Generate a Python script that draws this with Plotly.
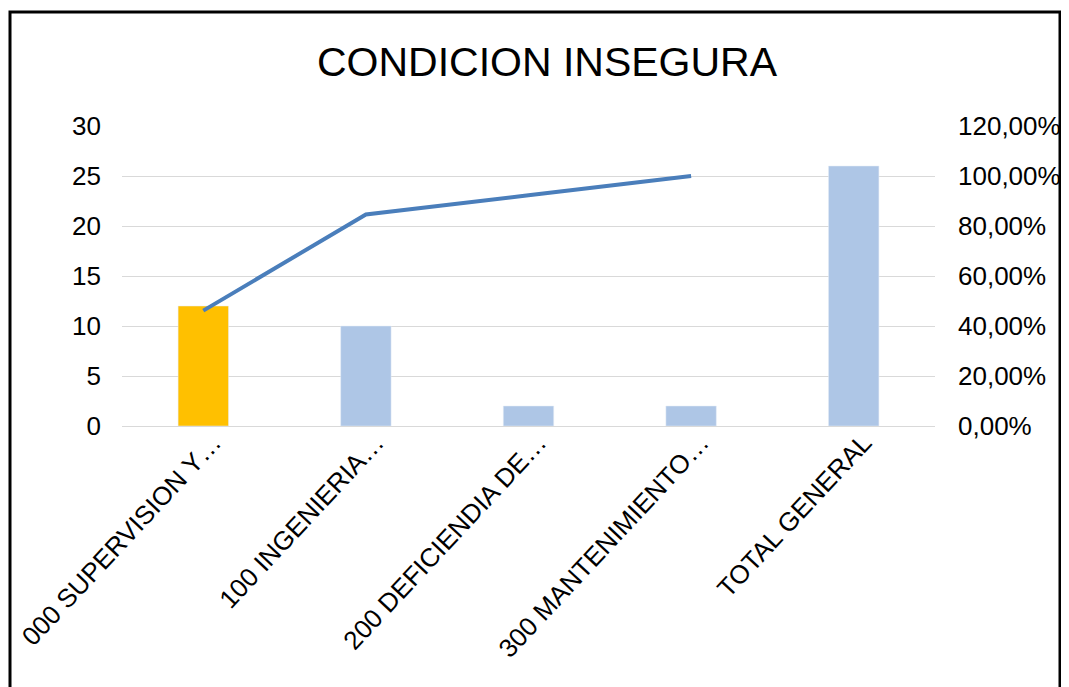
import plotly.graph_objects as go

categorias = ["000 SUPERVISION Y…", "100 INGENIERIA…", "200 DEFICIENDIA DE…",
              "300 MANTENIMIENTO…", "TOTAL GENERAL"]
cantidad = [12, 10, 2, 2, 26]
acumulado = [0.4615, 0.8462, 0.9231, 1.0]
colores = ["#FFC000", "#AEC6E6", "#AEC6E6", "#AEC6E6", "#AEC6E6"]

fig = go.Figure()

fig.add_trace(go.Bar(x=categorias, y=cantidad, marker_color=colores,
                     width=0.31, showlegend=False))
fig.add_trace(go.Scatter(x=categorias[:4], y=acumulado, mode="lines",
                         line=dict(color="#4A7EBB", width=4),
                         yaxis="y2", showlegend=False))

# la pagina tiene 8px de margen, se descuenta aqui
W, H = 1061, 679
L, R, T, B = 114, 134, 118, 261
pw, ph = W - L - R, H - T - B

# marco negro alrededor del grafico
fig.add_shape(type="rect", xref="paper", yref="paper",
              x0=(2 - L) / pw, x1=(1052 - L) / pw,
              y0=-1.0, y1=(H - B - 4) / ph,
              line=dict(color="black", width=3), fillcolor="rgba(0,0,0,0)",
              layer="below")

fig.update_layout(
    width=W, height=H,
    margin=dict(l=L, r=R, t=T, b=B, autoexpand=False),
    paper_bgcolor="white", plot_bgcolor="white",
    separators=",.",
    font=dict(family="Liberation Sans, Arial", size=26, color="black"),
    title=dict(text="CONDICION INSEGURA", x=(547 - 8 - L) / pw, xanchor="center",
               xref="paper", y=1 - 54 / H, yanchor="middle",
               font=dict(size=41, color="black")),
    bargap=0.69,
    xaxis=dict(tickangle=-47, automargin=False, showgrid=False,
               showline=True, linecolor="#D9D9D9", linewidth=1, ticks="",
               tickfont=dict(size=26), ticklabelshift=10,
               ticklabelstandoff=-10),
    yaxis=dict(range=[0, 30], dtick=5, automargin=False, showline=False,
               gridcolor="#D9D9D9", gridwidth=1, zeroline=False, ticks="",
               ticklabelstandoff=20),
    yaxis2=dict(range=[0, 1.2], dtick=0.2, tickformat=".2%", overlaying="y",
                side="right", automargin=False, showgrid=False,
                zeroline=False, ticks="", ticklabelstandoff=22),
)

fig.write_html("out.html")
